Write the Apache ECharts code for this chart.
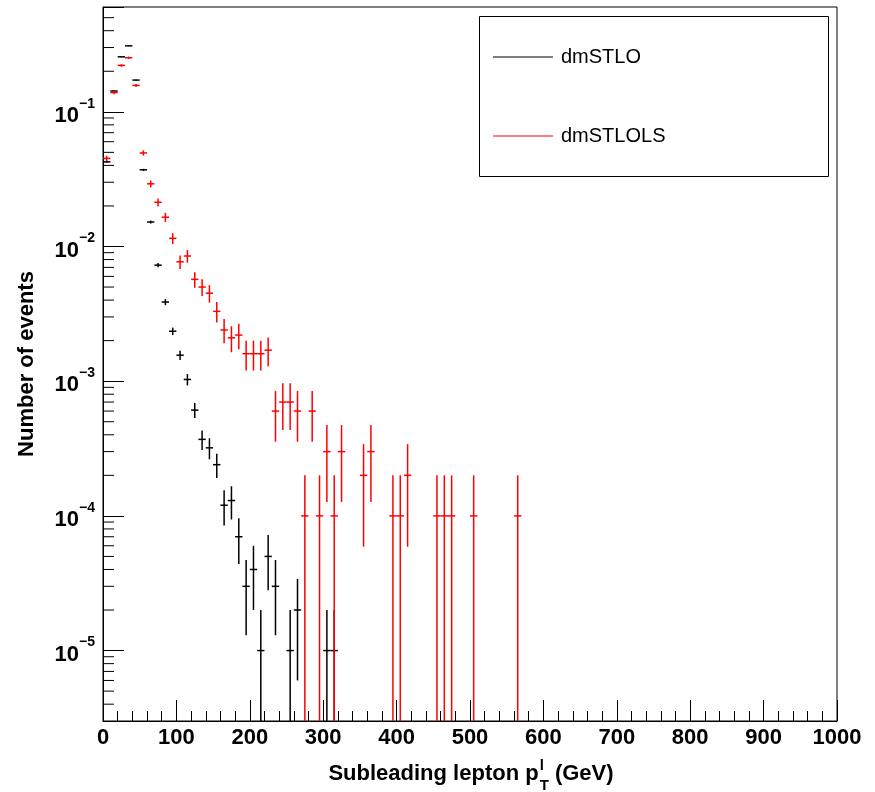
<!DOCTYPE html>
<html>
<head>
<meta charset="utf-8">
<script src="https://cdn.jsdelivr.net/npm/echarts/dist/echarts.min.js"></script>
<style>
html,body{margin:0;padding:0;background:#fff;}
#chart{width:875px;height:792px;}
</style>
</head>
<body>
<div id="chart"></div>
<script>
// ---- data (bin centres in GeV, 10 GeV bins) ----
const binCenters = [5,15,25,35,45,55,65,75,85,95,105,115,125,135,145,155,165,175,185,195,205,215,225,235,245,255,265,275,285,295,305,315,325,335,345,355,365,375,385,395,405,415,425,435,445,455,465,475,485,495,505,515,525,535,545,555,565];
const seriesNames = ['dmSTLO', 'dmSTLOLS'];
const dmSTLO = [0.0425,0.1426,0.256,0.309,0.172,0.0371,0.0152,0.00727,0.00387,0.00235,0.00156,0.00103,0.00061,0.00037,0.00032,0.00024,0.00012,0.00013,0.00007,0.00003,0.00004,0.00001,0.00005,0.00003,null,0.00001,0.00002,null,null,null,0.00001,0.00001,null,null,null,null,null,null,null,null,null,null,null,null,null,null,null,null,null,null,null,null,null,null,null,null,null];
const dmSTLOErr = [0.00065,0.00119,0.0016,0.00176,0.00131,0.00061,0.00039,0.00027,0.0002,0.00015,0.000125,0.0001,0.000078,0.000061,0.000057,0.000049,0.000035,0.000036,0.000026,0.000017,0.00002,0.00001,0.000022,0.000017,null,0.00001,0.000014,null,null,null,0.00001,0.00001,null,null,null,null,null,null,null,null,null,null,null,null,null,null,null,null,null,null,null,null,null,null,null,null,null];
const dmSTLOLS = [0.0451,0.139,0.221,0.252,0.157,0.0495,0.0292,0.0213,0.0165,0.0115,0.0077,0.0085,0.0057,0.0050,0.0045,0.0033,0.0024,0.0021,0.0022,0.0016,0.0016,0.0016,0.0017,0.0006,0.0007,0.0007,0.0006,0.0001,0.0006,0.0001,0.0003,0.0001,0.0003,null,null,0.0002,0.0003,null,null,0.0001,0.0001,0.0002,null,null,null,0.0001,0.0001,0.0001,null,null,0.0001,null,null,null,null,null,0.0001];
const dmSTLOLSErr = [0.0021,0.0037,0.0047,0.005,0.004,0.0022,0.0017,0.00146,0.00128,0.00107,0.00088,0.00092,0.00075,0.00071,0.00067,0.00057,0.00049,0.00046,0.00047,0.0004,0.0004,0.0004,0.00041,0.000245,0.000265,0.000265,0.000245,0.0001,0.000245,0.0001,0.000173,0.0001,0.000173,null,null,0.000141,0.000173,null,null,0.0001,0.0001,0.000141,null,null,null,0.0001,0.0001,0.0001,null,null,0.0001,null,null,null,null,null,0.0001];
const xTicks = [0,100,200,300,400,500,600,700,800,900,1000];
const yMinorTicks = [4e-6,5e-6,6e-6,7e-6,8e-6,9e-6,2e-5,3e-5,4e-5,5e-5,6e-5,7e-5,8e-5,9e-5,2e-4,3e-4,4e-4,5e-4,6e-4,7e-4,8e-4,9e-4,2e-3,3e-3,4e-3,5e-3,6e-3,7e-3,8e-3,9e-3,2e-2,3e-2,4e-2,5e-2,6e-2,7e-2,8e-2,9e-2,2e-1,3e-1,4e-1,5e-1];

const yMin = 3e-6, yMax = 0.6, binHalf = 5;
const FONT = '"Liberation Sans", Arial, Helvetica, sans-serif';

function build(vals, errs) {
  const out = [];
  for (let i = 0; i < binCenters.length; i++) {
    if (vals[i] != null) out.push([binCenters[i], vals[i], errs[i]]);
  }
  return out;
}

function errRenderer(color) {
  return function (params, api) {
    const x = api.value(0), y = api.value(1), e = api.value(2);
    const lo = (y - e) > yMin ? (y - e) : yMin;
    const pc = api.coord([x, y]);
    const pl = api.coord([x - binHalf, y]);
    const pr = api.coord([x + binHalf, y]);
    const pt = api.coord([x, y + e]);
    const pb = api.coord([x, lo]);
    const st = {stroke: color, lineWidth: 1.5};
    return {type: 'group', children: [
      {type: 'line', shape: {x1: pl[0], y1: pc[1], x2: pr[0], y2: pc[1]}, style: st},
      {type: 'line', shape: {x1: pc[0], y1: pt[1], x2: pc[0], y2: pb[1]}, style: st}
    ]};
  };
}

const chart = echarts.init(document.getElementById('chart'), null, {renderer: 'canvas'});

// measure text for axis title layout
const cv = document.createElement('canvas').getContext('2d');
function tw(t, f) { cv.font = f; return cv.measureText(t).width; }
const bigF = 'bold 22px ' + FONT, smF = 'bold 15px ' + FONT;
const t1 = 'Subleading lepton p', t2 = ' (GeV)';
const w1 = tw(t1, bigF), w2 = tw(t2, bigF), ws = Math.max(tw('l', smF), tw('T', smF));
const total = w1 + 1 + ws + w2;
const xStart = 471 - total / 2;

const option = {
  backgroundColor: '#fff',
  animation: false,
  grid: {left: 103, right: 38, top: 7, bottom: 71, show: true, borderColor: '#000', borderWidth: 1, outerBoundsMode: 'none', containLabel: false},
  xAxis: {
    type: 'value', min: xTicks[0], max: xTicks[xTicks.length - 1], interval: 100,
    axisLine: {show: true, lineStyle: {color: '#000', width: 1}},
    axisTick: {show: true, inside: true, length: 21, lineStyle: {color: '#000', width: 1}},
    minorTick: {show: true, splitNumber: 5, length: 10, lineStyle: {color: '#000', width: 1}},
    splitLine: {show: false},
    axisLabel: {show: true, margin: 6, color: '#000', fontSize: 22, fontWeight: 'bold', fontFamily: FONT, showMinLabel: true, showMaxLabel: true, hideOverlap: false,
      formatter: function (v) { return String(Math.round(v)); }}
  },
  yAxis: {
    type: 'log', logBase: 10, min: yMin, max: yMax,
    axisLine: {show: true, lineStyle: {color: '#000', width: 1}},
    axisTick: {show: true, inside: true, length: 21, lineStyle: {color: '#000', width: 1}},
    splitLine: {show: false},
    axisLabel: {
      show: true, margin: 8, color: '#000', hideOverlap: false,
      formatter: function (v) {
        const l = Math.log10(v), e = Math.round(l);
        if (Math.abs(l - e) > 1e-6) return '';
        return '{b|10}{s|\u2212' + Math.abs(e) + '}';
      },
      rich: {
        b: {fontSize: 22, fontWeight: 'bold', fontFamily: FONT, color: '#000', lineHeight: 30, verticalAlign: 'bottom'},
        s: {fontSize: 14, fontWeight: 'bold', fontFamily: FONT, color: '#000', verticalAlign: 'top'}
      }
    }
  },
  legend: {
    data: seriesNames, orient: 'vertical', left: 488, top: 41, itemWidth: 60, itemHeight: 1,
    itemGap: 57, icon: 'rect', selectedMode: false, z: 10,
    textStyle: {fontSize: 20, fontFamily: FONT, color: '#000', lineHeight: 22, padding: [0, 0, 0, 3]}
  },
  graphic: [
    {type: 'rect', z: 5, shape: {x: 479.5, y: 16.5, width: 349, height: 160}, style: {fill: '#fff', stroke: '#000', lineWidth: 1}},
    {type: 'text', x: 27, y: 364, rotation: Math.PI / 2, style: {text: 'Number of events', font: bigF, fill: '#000', align: 'center', verticalAlign: 'middle'}},
    {type: 'text', x: xStart, y: 774, style: {text: t1, font: bigF, fill: '#000', align: 'left', verticalAlign: 'middle'}},
    {type: 'text', x: xStart + w1 + 1, y: 766, style: {text: 'l', font: smF, fill: '#000', align: 'left', verticalAlign: 'middle'}},
    {type: 'text', x: xStart + w1 + 1, y: 786, style: {text: 'T', font: smF, fill: '#000', align: 'left', verticalAlign: 'middle'}},
    {type: 'text', x: xStart + w1 + 1 + ws, y: 774, style: {text: t2, font: bigF, fill: '#000', align: 'left', verticalAlign: 'middle'}}
  ],
  series: [
    {name: seriesNames[0], type: 'custom', renderItem: errRenderer('#000'), itemStyle: {color: '#000'}, data: build(dmSTLO, dmSTLOErr), clip: true, z: 3, encode: {x: 0, y: 1}},
    {name: seriesNames[1], type: 'custom', renderItem: errRenderer('#ff0000'), itemStyle: {color: '#ff0000'}, data: build(dmSTLOLS, dmSTLOLSErr), clip: true, z: 4, encode: {x: 0, y: 1}},
    {name: 'minorTicks', type: 'custom', silent: true, clip: false, z: 2,
      data: yMinorTicks.map(v => [0, v]),
      renderItem: function (params, api) {
        const p = api.coord([api.value(0), api.value(1)]);
        return {type: 'line', shape: {x1: p[0], y1: p[1], x2: p[0] + 11, y2: p[1]}, style: {stroke: '#000', lineWidth: 1}};
      },
      encode: {x: 0, y: 1}
    }
  ]
};
chart.setOption(option);
</script>
</body>
</html>
